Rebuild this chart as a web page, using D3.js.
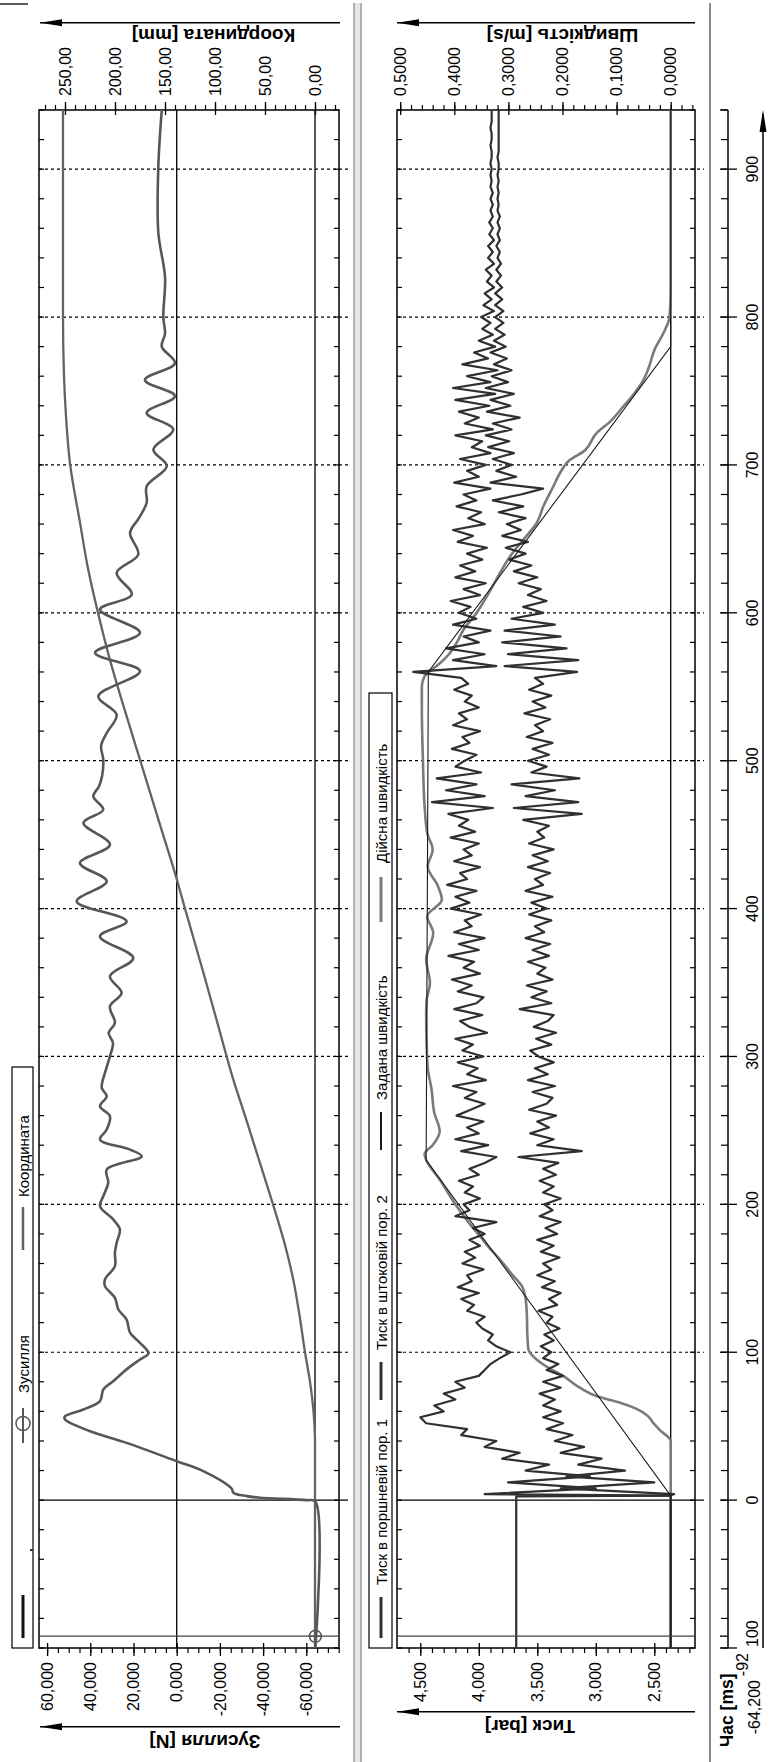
<!DOCTYPE html>
<html lang="uk">
<head>
<meta charset="UTF-8">
<title>Зусилля, координата, тиск і швидкість</title>
<script src="https://d3js.org/d3.v7.min.js"></script>
<style>
  body { margin: 0; background: #fff; }
  svg { display: block; font-family: "Liberation Sans", Arial, sans-serif; }
</style>
</head>
<body>
<svg id="chart" width="775" height="1762"></svg>
<script>
// ---- data (time in ms) ----
// Зусилля, shown in the axis units (60,000 ...)
const force = [[-100,-64.2],[-1,-64.2],[0,-60],[1.6,-38.6],[2.7,-32.4],[5,-26.2],[7.7,-25.5],[19.6,-12.3],[26.3,0],
  [38.7,23.2],[46.6,40.1],[54.5,51.7],[56.5,51.8],[61.3,43.2],[66.9,35.5],[74.8,34.0],[80.4,29.4],[88.4,23.2],
  [95.1,17.0],[99.2,13.1],[106.4,17.0],[113.2,21.6],[122.1,23.2],[128.9,27.0],[136.8,28.6],[144.7,33.2],[149.2,33.2],
  [158.2,28.6],[167.2,28.6],[174,27.8],[183,26.3],[189.8,29.4],[198.7,35.5],[205.5,34.0],[214.6,31.7],[223.5,32.4],
  [232.5,16.2],[237,21.6],[243.8,35.5],[250.6,32.4],[259.6,30.9],[266.3,35.5],[273.1,32.4],[278.8,34.7],[290,33.0],
  [300.1,30.9],[309.2,29.5],[315.9,31.5],[322.7,28.6],[333.9,30.9],[343,25.5],[354.2,30.9],[366.6,20.1],[381.2,35.5],
  [391.4,23.2],[404.9,46.3],[418.4,32.4],[430.8,44.8],[443.2,30.9],[457.9,43.2],[466.9,34.0],[475.9,38.6],[482.6,36.0],
  [490,34.5],[500.7,34.0],[510,35.0],[518.7,32.4],[531.1,27.8],[543.6,36.3],[560.5,17.0],[573,37.8],[586.5,17.0],
  [602.3,35.5],[612.4,20.8],[627,27.8],[639.4,17.8],[654,21.6],[664,17.5],[674.4,13.9],[685.6,13.9],[699.2,4.6],
  [710.4,10.8],[724,1.6],[735.2,13.9],[746.5,0.8],[757.5,14.7],[768.8,0.8],[780,6.9],[789,5.4],[800,6.2],[827,5.4],
  [857,8.5],[902,8.5],[940,6.9]];

// Координата [mm]
const coord = [[-100,0],[40,0],[50,0.5],[60,1.5],[80,5],[100,10],[125,15.5],[150,22],[175,31],[200,42],[230,56],
  [260,70],[285,82],[320,96.5],[360,113],[400,130],[420,138.3],[460,156.5],[500,174.7],[541,193.3],[568,205],[600,217],
  [630,227],[661,235],[701,245],[733,249],[760,251],[800,252],[940,252]];

// Тиск [bar], sampled every 4 ms from t = 4
const pressureStart = 4, pressureStep = 4;
const pressure1Before = [[-100,2.36],[3,2.36]];
const pressure1 = [
  3.95,3.0,3.75,3.05,3.6,3.4,3.8,3.65,3.95,3.85,4.15,4.1,4.45,4.5,4.3,4.38,4.2,4.3,4.12,4.2,4.0,3.95,3.9,3.82,3.73,
  3.85,3.92,3.88,3.97,4.02,3.95,4.1,4.04,4.15,4.0,4.18,4.06,4.1,3.96,4.14,4.03,4.12,3.99,4.08,3.95,4.05,3.85,4.2,4.08,4.13,
  3.99,4.12,4.05,4.17,4.0,4.08,3.95,3.85,4.15,3.92,4.2,4.0,4.1,3.96,4.19,4.07,3.95,4.12,4.02,4.22,3.94,4.1,4.01,4.18,3.96,
  4.14,4.05,4.2,3.93,4.08,4.16,3.97,4.21,4.02,3.96,4.18,4.06,4.23,3.99,4.13,4.04,4.26,4.0,4.17,3.95,4.21,4.06,4.12,3.98,4.24,
  4.08,4.2,4.02,4.27,4.1,4.16,3.99,4.21,4.06,4.13,4.0,4.24,4.03,4.17,4.09,4.26,3.88,4.4,3.95,4.28,4.02,4.36,3.98,4.2,4.12,
  4.02,4.23,4.08,4.14,3.99,4.22,4.1,4.17,4.0,4.12,4.06,4.21,4.09,4.15,4.56,3.85,4.22,3.95,4.28,4.0,4.13,3.9,4.22,4.02,4.17,
  4.07,4.24,3.99,4.13,3.94,4.2,4.03,4.16,3.97,4.1,3.93,4.18,4.05,4.22,3.95,4.09,3.98,4.19,4.02,4.13,3.9,4.21,4.0,4.1,3.94,
  4.16,3.9,4.06,3.97,4.2,3.88,4.12,4.0,4.17,3.91,4.2,3.86,4.22,3.9,4.1,3.84,4.14,3.92,4.04,3.86,4.0,3.88,3.97,3.9,3.98,
  3.87,3.96,3.89,3.95,3.87,3.93,3.89,3.94,3.87,3.92,3.88,3.92,3.87,3.91,3.88,3.91,3.88,3.9,3.88,3.9,3.88,3.9,3.89,3.9,3.89,
  3.9,3.89,3.89,3.9,3.89,3.89,3.9,3.89,3.89,3.89];
const pressure2Before = [[-100,3.68],[2.5,3.68],[3,2.38]];
const pressure2 = [
  2.33,3.3,2.5,3.25,2.75,3.15,2.95,3.3,3.1,3.35,3.2,3.42,3.28,3.45,3.3,3.45,3.35,3.48,3.3,3.45,3.28,3.42,3.32,3.45,3.38,
  3.47,3.36,3.44,3.31,3.42,3.37,3.49,3.33,3.4,3.3,3.46,3.35,3.5,3.38,3.45,3.31,3.47,3.36,3.5,3.33,3.43,3.3,3.48,3.37,3.44,
  3.3,3.45,3.36,3.48,3.34,3.45,3.32,3.66,3.12,3.5,3.36,3.56,3.4,3.5,3.34,3.57,3.42,3.37,3.54,3.35,3.58,3.41,3.52,3.36,3.49,
  3.56,3.38,3.51,3.34,3.53,3.41,3.36,3.65,3.38,3.55,3.42,3.59,3.37,3.5,3.43,3.58,3.4,3.54,3.39,3.6,3.44,3.52,3.38,3.57,3.42,
  3.55,3.37,3.6,3.45,3.52,3.39,3.58,3.41,3.54,3.36,3.57,3.44,3.5,3.4,3.62,3.12,3.7,3.15,3.6,3.35,3.72,3.14,3.55,3.42,3.58,
  3.4,3.54,3.37,3.59,3.45,3.52,3.39,3.61,3.43,3.54,3.38,3.57,3.45,3.52,3.16,3.78,3.15,3.75,3.25,3.8,3.3,3.78,3.35,3.72,3.45,
  3.62,3.42,3.58,3.47,3.66,3.5,3.7,3.55,3.74,3.6,3.77,3.58,3.8,3.64,3.76,3.6,3.83,3.62,3.88,3.64,3.45,3.9,3.68,3.85,3.72,
  3.88,3.7,3.92,3.74,3.94,3.72,3.88,3.65,3.93,3.73,3.9,3.7,3.94,3.75,3.89,3.72,3.87,3.76,3.9,3.77,3.87,3.78,3.86,3.79,3.86,
  3.79,3.86,3.8,3.86,3.8,3.85,3.81,3.85,3.81,3.84,3.82,3.85,3.82,3.84,3.82,3.84,3.82,3.84,3.83,3.84,3.83,3.84,3.83,3.84,3.83,
  3.83,3.84,3.83,3.83,3.83,3.83,3.83,3.83,3.83,3.83];

// Швидкість [m/s]
const speedSet = [[-100,0],[3,0],[230,0.452],[560,0.448],[780,0],[940,0]];
const speedActual = [[-100,0],[40,0],[47.3,0.02],[52,0.032],[56.8,0.042],[62,0.065],[66,0.095],[70,0.135],[76,0.168],
  [83.8,0.198],[90,0.228],[95.1,0.248],[101.9,0.263],[112,0.265],[126.7,0.266],[137.9,0.269],[144.7,0.275],[152,0.292],
  [162.7,0.3155],[170,0.334],[178.4,0.3525],[188,0.374],[198.7,0.3956],[208,0.412],[216.8,0.427],[224,0.442],
  [229.1,0.451],[234,0.455],[240,0.44],[249.5,0.427],[262,0.437],[277.6,0.442],[292,0.449],[306.9,0.451],[329.4,0.452],
  [338.4,0.451],[349.7,0.445],[365.5,0.452],[383.5,0.439],[394.8,0.45],[406,0.423],[415,0.43],[428.5,0.449],
  [439.8,0.44],[451,0.45],[470,0.455],[500,0.458],[536.7,0.46],[550,0.46],[557,0.455],[562,0.44],[566,0.426],
  [572,0.41],[579.5,0.396],[588.5,0.383],[599.8,0.359],[611,0.34],[626.9,0.3155],[638.1,0.297],[649.4,0.2725],
  [660.7,0.2477],[671.9,0.2355],[685.4,0.217],[694.5,0.2046],[703.5,0.186],[709,0.1615],[721.5,0.137],[729.3,0.112],
  [739.5,0.0876],[748,0.068],[757.6,0.05],[766.5,0.04],[777.8,0.03],[789,0.0136],[800.3,0.002],[820,0],[940,0]];

const cursorTime = -92, cursorForce = -64.2;
const timeMajor = d3.range(-100, 901, 100);
const timeMinor = d3.range(-100, 941, 20);

// ---- layout: the chart is drawn landscape, then turned a quarter left ----
const W = 1762;
const svg = d3.select("#chart");
const g = svg.append("g").attr("transform", `translate(0,${W}) rotate(-90)`);

const x = d3.scaleLinear().domain([-100, 940]).range([114, 1652]);
const top0 = 39, top1 = 339, bot0 = 397, bot1 = 695;
const yForce = d3.scaleLinear().domain([-75.14, 63.75]).range([top1, top0]);
const yCoord = d3.scaleLinear().domain([-24, 276]).range([top1, top0]);
const yPres = d3.scaleLinear().domain([2.152, 4.699]).range([bot1, bot0]);
const ySpeed = d3.scaleLinear().domain([-0.0449, 0.5059]).range([bot1, bot0]);

const fmt = (d, n) => d.toFixed(n).replace(".", ",");
const font = "'Liberation Sans', Arial, sans-serif";

// separators
g.append("rect").attr("x", 0).attr("y", 354).attr("width", W - 3).attr("height", 7).attr("fill", "#e6e6e6");
[354, 361].forEach(yy => g.append("line").attr("x1", 0).attr("x2", W - 3).attr("y1", yy).attr("y2", yy)
  .attr("stroke", "#9a9a9a").attr("stroke-width", 1.5));
g.append("line").attr("x1", 0).attr("x2", W - 3).attr("y1", 710).attr("y2", 710)
  .attr("stroke", "#8c8c8c").attr("stroke-width", 2);
g.append("line").attr("x1", W - 4).attr("x2", W - 4).attr("y1", 0).attr("y2", 28)
  .attr("stroke", "#222").attr("stroke-width", 1.5);

// panels
function panel(p0, p1, zeroLines) {
  const pg = g.append("g");
  // time grid
  timeMajor.filter(t => t > -100).forEach(t => {
    pg.append("line").attr("x1", x(t)).attr("x2", x(t)).attr("y1", p0).attr("y2", p1 + 9)
      .attr("stroke", "#000").attr("stroke-width", t === 0 ? 1.3 : 1.2)
      .attr("stroke-dasharray", t === 0 ? null : "3,3");
  });
  zeroLines.forEach(yy => pg.append("line").attr("x1", x(-100)).attr("x2", x(940))
    .attr("y1", yy).attr("y2", yy).attr("stroke", "#000").attr("stroke-width", 1.3));
  timeMinor.forEach(t => {
    pg.append("line").attr("x1", x(t)).attr("x2", x(t)).attr("y1", p0).attr("y2", p0 + 5).attr("stroke", "#000").attr("stroke-width", 1.2);
    pg.append("line").attr("x1", x(t)).attr("x2", x(t)).attr("y1", p1 - 5).attr("y2", p1).attr("stroke", "#000").attr("stroke-width", 1.2);
  });
  pg.append("rect").attr("x", x(-100)).attr("y", p0).attr("width", x(940) - x(-100)).attr("height", p1 - p0)
    .attr("fill", "none").attr("stroke", "#000").attr("stroke-width", 1.5);
  return pg;
}
panel(top0, top1, [yForce(0), yCoord(0)]);
panel(bot0, bot1, [ySpeed(0)]);

// value axes
function valueAxis(side, scale, pos, minor, major, digits) {
  const make = side === "left" ? d3.axisLeft : d3.axisRight;
  g.append("g").attr("transform", `translate(${pos},0)`)
    .call(make(scale).tickValues(minor).tickSize(5).tickFormat(""))
    .call(a => a.select(".domain").remove())
    .call(a => a.selectAll(".tick line").attr("stroke-width", 1.2));
  g.append("g").attr("transform", `translate(${pos},0)`)
    .call(make(scale).tickValues(major).tickSize(8).tickSizeOuter(0).tickPadding(6).tickFormat(d => fmt(d, digits)))
    .call(a => a.select(".domain").remove())
    .call(a => a.selectAll(".tick line").attr("x1", side === "left" ? 5 : -5).attr("stroke-width", 1.3))
    .attr("font-size", 16).attr("font-family", font);
}
valueAxis("left", yForce, x(-100), d3.range(-75, 61, 5), d3.range(-60, 61, 20), 3);
valueAxis("right", yCoord, x(940), d3.range(-20, 271, 10), d3.range(0, 251, 50), 2);
valueAxis("left", yPres, x(-100), d3.range(22, 47).map(v => v / 10), [2.5, 3, 3.5, 4, 4.5], 3);
valueAxis("right", ySpeed, x(940), d3.range(-2, 26).map(v => v / 50), d3.range(0, 6).map(v => v / 10), 4);

// axis titles with arrows
function arrow(xx, y0, y1, dir) {
  g.append("line").attr("x1", xx).attr("x2", xx).attr("y1", y0).attr("y2", y1).attr("stroke", "#000").attr("stroke-width", 1.5);
  g.append("path").attr("d", `M${xx},${y1} l-3.5,${22 * dir} l7,0 z`).attr("fill", "#000");
}
function title(txt, xx, yy) {
  g.append("text").attr("transform", `translate(${xx},${yy}) rotate(-90)`)
    .attr("text-anchor", "middle").attr("dominant-baseline", "central")
    .attr("font-size", 19).attr("font-weight", "bold").attr("font-family", font).text(txt);
}
arrow(35.3, top1 + 1, top0 + 1, 1);
arrow(50.3, bot1, bot0, 1);
arrow(1739.3, top1 + 1, top0 + 1, 1);
arrow(1739.3, bot1, bot0, 1);
title("Зусилля [N]", 20.5, 205);
title("Тиск [bar]", 35.5, 530);
title("Координата [mm]", 1727, 213.5);
title("Швидкість [m/s]", 1727, 562.5);

// time axis
const ta = g.append("g");
ta.append("line").attr("x1", x(-100)).attr("x2", x(940)).attr("y1", 728).attr("y2", 728).attr("stroke", "#000").attr("stroke-width", 1.5);
timeMinor.forEach(t => ta.append("line").attr("x1", x(t)).attr("x2", x(t)).attr("y1", 721).attr("y2", 728)
  .attr("stroke", "#000").attr("stroke-width", 1.2));
timeMajor.forEach(t => ta.append("line").attr("x1", x(t)).attr("x2", x(t)).attr("y1", 720).attr("y2", 737)
  .attr("stroke", "#000").attr("stroke-width", 1.3));
ta.append("line").attr("x1", x(940)).attr("x2", x(940)).attr("y1", 720).attr("y2", 728).attr("stroke", "#000").attr("stroke-width", 1.3);
ta.append("line").attr("x1", x(cursorTime)).attr("x2", x(cursorTime)).attr("y1", 720).attr("y2", 728).attr("stroke", "#000").attr("stroke-width", 1.3);
timeMajor.forEach(t => ta.append("text")
  .attr("x", t === -100 ? x(-100) + 1 : x(t)).attr("y", 752)
  .attr("text-anchor", t === -100 ? "start" : "middle").attr("dominant-baseline", "central")
  .attr("font-size", 16).attr("font-family", font).text(t === -100 ? "100" : t));
g.append("line").attr("x1", x(-100)).attr("x2", x(940) - 4).attr("y1", 763).attr("y2", 763).attr("stroke", "#000").attr("stroke-width", 1.5);
g.append("path").attr("d", `M${x(940)},763 l-22,-3.5 l0,7 z`).attr("fill", "#000");
g.append("text").attr("x", 15).attr("y", 727).attr("dominant-baseline", "central")
  .attr("font-size", 17.5).attr("font-weight", "bold").attr("font-family", font).text("Час [ms]");
g.append("text").attr("x", 109).attr("y", 742).attr("text-anchor", "end").attr("dominant-baseline", "central")
  .attr("font-size", 16).attr("font-family", font).text(fmt(cursorTime, 0));
g.append("text").attr("x", 82).attr("y", 754).attr("text-anchor", "end").attr("dominant-baseline", "central")
  .attr("font-size", 16).attr("font-family", font).text(fmt(cursorForce, 3));

// curves
g.append("clipPath").attr("id", "clipTop").append("rect")
  .attr("x", x(-100)).attr("y", top0).attr("width", x(940) - x(-100)).attr("height", top1 - top0);
g.append("clipPath").attr("id", "clipBot").append("rect")
  .attr("x", x(-100)).attr("y", bot0).attr("width", x(940) - x(-100)).attr("height", bot1 - bot0);

const lineOf = (ys, curve) => d3.line().x(d => x(d[0])).y(d => ys(d[1])).curve(curve || d3.curveLinear);
const topG = g.append("g").attr("clip-path", "url(#clipTop)");
const botG = g.append("g").attr("clip-path", "url(#clipBot)");

topG.append("path").datum(coord).attr("d", lineOf(yCoord, d3.curveMonotoneX))
  .attr("fill", "none").attr("stroke", "#636363").attr("stroke-width", 2.3);
topG.append("path").datum(force).attr("d", lineOf(yForce, d3.curveCatmullRom.alpha(0.5)))
  .attr("fill", "none").attr("stroke", "#575757").attr("stroke-width", 2.6).attr("stroke-linejoin", "round");

const withTime = arr => arr.map((v, i) => [pressureStart + i * pressureStep, v]);
const p1 = pressure1Before.concat(withTime(pressure1));
const p2 = pressure2Before.concat(withTime(pressure2));

botG.append("path").datum(speedActual).attr("d", lineOf(ySpeed, d3.curveMonotoneX))
  .attr("fill", "none").attr("stroke", "#7a7a7a").attr("stroke-width", 2.6);
[p2, p1].forEach(p => botG.append("path").datum(p).attr("d", lineOf(yPres))
  .attr("fill", "none").attr("stroke", "#303030").attr("stroke-width", 2.2).attr("stroke-linejoin", "round"));
botG.append("path").datum(speedSet).attr("d", lineOf(ySpeed))
  .attr("fill", "none").attr("stroke", "#1a1a1a").attr("stroke-width", 1.1);

// cursor
[[top0, top1], [bot0, bot1]].forEach(([a, b]) => g.append("line")
  .attr("x1", x(cursorTime)).attr("x2", x(cursorTime)).attr("y1", a).attr("y2", b)
  .attr("stroke", "#444").attr("stroke-width", 1.2));
const cx = x(cursorTime), cy = yForce(cursorForce);
g.append("circle").attr("cx", cx).attr("cy", cy).attr("r", 6).attr("fill", "none").attr("stroke", "#555").attr("stroke-width", 1.5);
g.append("path").attr("d", `M${cx - 6},${cy}h12M${cx},${cy - 6}v12`).attr("stroke", "#555").attr("stroke-width", 1.2);

// legends
function legendBox(x0, x1, y0, y1) {
  g.append("rect").attr("x", x0).attr("y", y0).attr("width", x1 - x0).attr("height", y1 - y0)
    .attr("fill", "#fff").attr("stroke", "#000").attr("stroke-width", 1.2);
}
function legendItem(x0, x1, yy, tx, label, stroke, width) {
  g.append("line").attr("x1", x0).attr("x2", x1).attr("y1", yy).attr("y2", yy).attr("stroke", stroke).attr("stroke-width", width);
  if (label) g.append("text").attr("x", tx).attr("y", yy + 0.5).attr("dominant-baseline", "central")
    .attr("font-size", 15).attr("font-family", font).text(label);
}
legendBox(x(-100), 695, 12, 33);
legendItem(124, 167, 23, 0, "", "#111", 3);
g.append("rect").attr("x", 211).attr("y", 30).attr("width", 2).attr("height", 3).attr("fill", "#333");
legendItem(319, 354, 23, 369, "Зусилля", "#575757", 2);
g.append("circle").attr("cx", 338.5).attr("cy", 23).attr("r", 7).attr("fill", "none").attr("stroke", "#575757").attr("stroke-width", 1.5);
legendItem(512, 555, 23, 565, "Координата", "#636363", 2.5);

legendBox(x(-100), 1069, 369, 392);
legendItem(124, 165, 381, 177, "Тиск в поршневій пор. 1", "#303030", 3);
legendItem(362, 400, 381, 412, "Тиск в штоковій пор.  2", "#303030", 3);
legendItem(612, 650, 381, 662, "Задана швидкість", "#1a1a1a", 2);
legendItem(840, 885, 381, 899, "Дійсна швидкість", "#7a7a7a", 3);
</script>
</body>
</html>
